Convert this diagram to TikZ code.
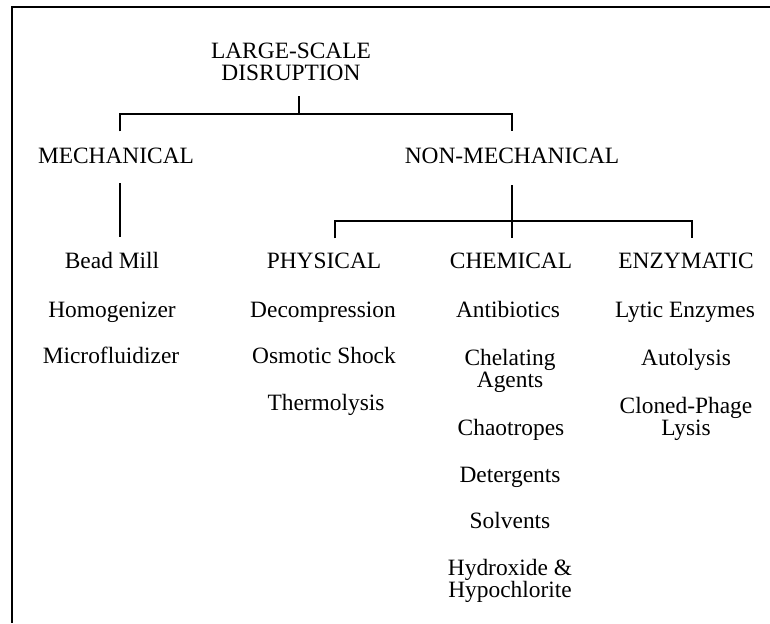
\documentclass[tikz,border=0pt]{standalone}
\usepackage{fontspec}
\setmainfont{Liberation Serif}
\begin{document}
\begin{tikzpicture}[x=1pt,y=-1pt,
  lbl/.style={inner sep=0pt,anchor=base,align=center,font=\fontsize{23.4}{22}\selectfont},
  link/.style={line width=1.4pt},
  frame/.style={line width=2pt}]
\useasboundingbox (0,0) rectangle (770,623);

% outer frame (top and left edges)
\draw[frame] (770,7) -- (12,7) -- (12,623);

% top level (base of a two-line label is its last line)
\node[lbl] (root) at (291,81) {LARGE-SCALE\\DISRUPTION};
\node[lbl] (mech) at (116,163) {MECHANICAL};
\node[lbl] (nonmech) at (512,163) {NON-MECHANICAL};

% mechanical methods
\node[lbl] (bead) at (112,268) {Bead Mill};
\node[lbl] (homog) at (112,317) {Homogenizer};
\node[lbl] (microf) at (111,363) {Microfluidizer};

% non-mechanical classes
\node[lbl] (phys) at (324,268) {PHYSICAL};
\node[lbl] (chem) at (511,268) {CHEMICAL};
\node[lbl] (enz) at (686,268) {ENZYMATIC};

% physical methods
\node[lbl] (decomp) at (323,317) {Decompression};
\node[lbl] (osmo) at (324,363) {Osmotic Shock};
\node[lbl] (thermo) at (326,410) {Thermolysis};

% chemical methods
\node[lbl] (antib) at (508,317) {Antibiotics};
\node[lbl] (chel) at (510,387) {Chelating\\Agents};
\node[lbl] (chao) at (511,435) {Chaotropes};
\node[lbl] (deterg) at (510,482) {Detergents};
\node[lbl] (solv) at (510,528) {Solvents};
\node[lbl] (hydrox) at (510,597) {Hydroxide \&\\Hypochlorite};

% enzymatic methods
\node[lbl] (lytic) at (685,317) {Lytic Enzymes};
\node[lbl] (autol) at (686,365) {Autolysis};
\node[lbl] (cloned) at (686,435) {Cloned-Phage\\Lysis};

% bus points of the tree
\coordinate (rootbus) at (299,114);
\coordinate (busL) at (120,114);
\coordinate (busR) at (512,114);
\coordinate (mechline) at (120,200);
\coordinate (bus2M) at (512,221);
\coordinate (bus2L) at (335,221);
\coordinate (bus2R) at (692,221);

% first split
\draw[link] ([yshift=-15pt]root.south -| rootbus) -- (rootbus);
\draw[link] ([yshift=16pt]mech.north -| busL) -- (busL) -- (busR)
  -- ([yshift=16pt]nonmech.north -| busR);

% mechanical branch
\draw[link] ([yshift=-20pt]mech.south -| mechline) -- ([yshift=15pt]bead.north -| mechline);

% non-mechanical branch
\draw[link] ([yshift=-22pt]nonmech.south -| bus2M) -- ([yshift=14pt]chem.north -| bus2M);
\draw[link] ([yshift=14pt]phys.north -| bus2L) -- (bus2L) -- (bus2R)
  -- ([yshift=14pt]enz.north -| bus2R);
\end{tikzpicture}
\end{document}
